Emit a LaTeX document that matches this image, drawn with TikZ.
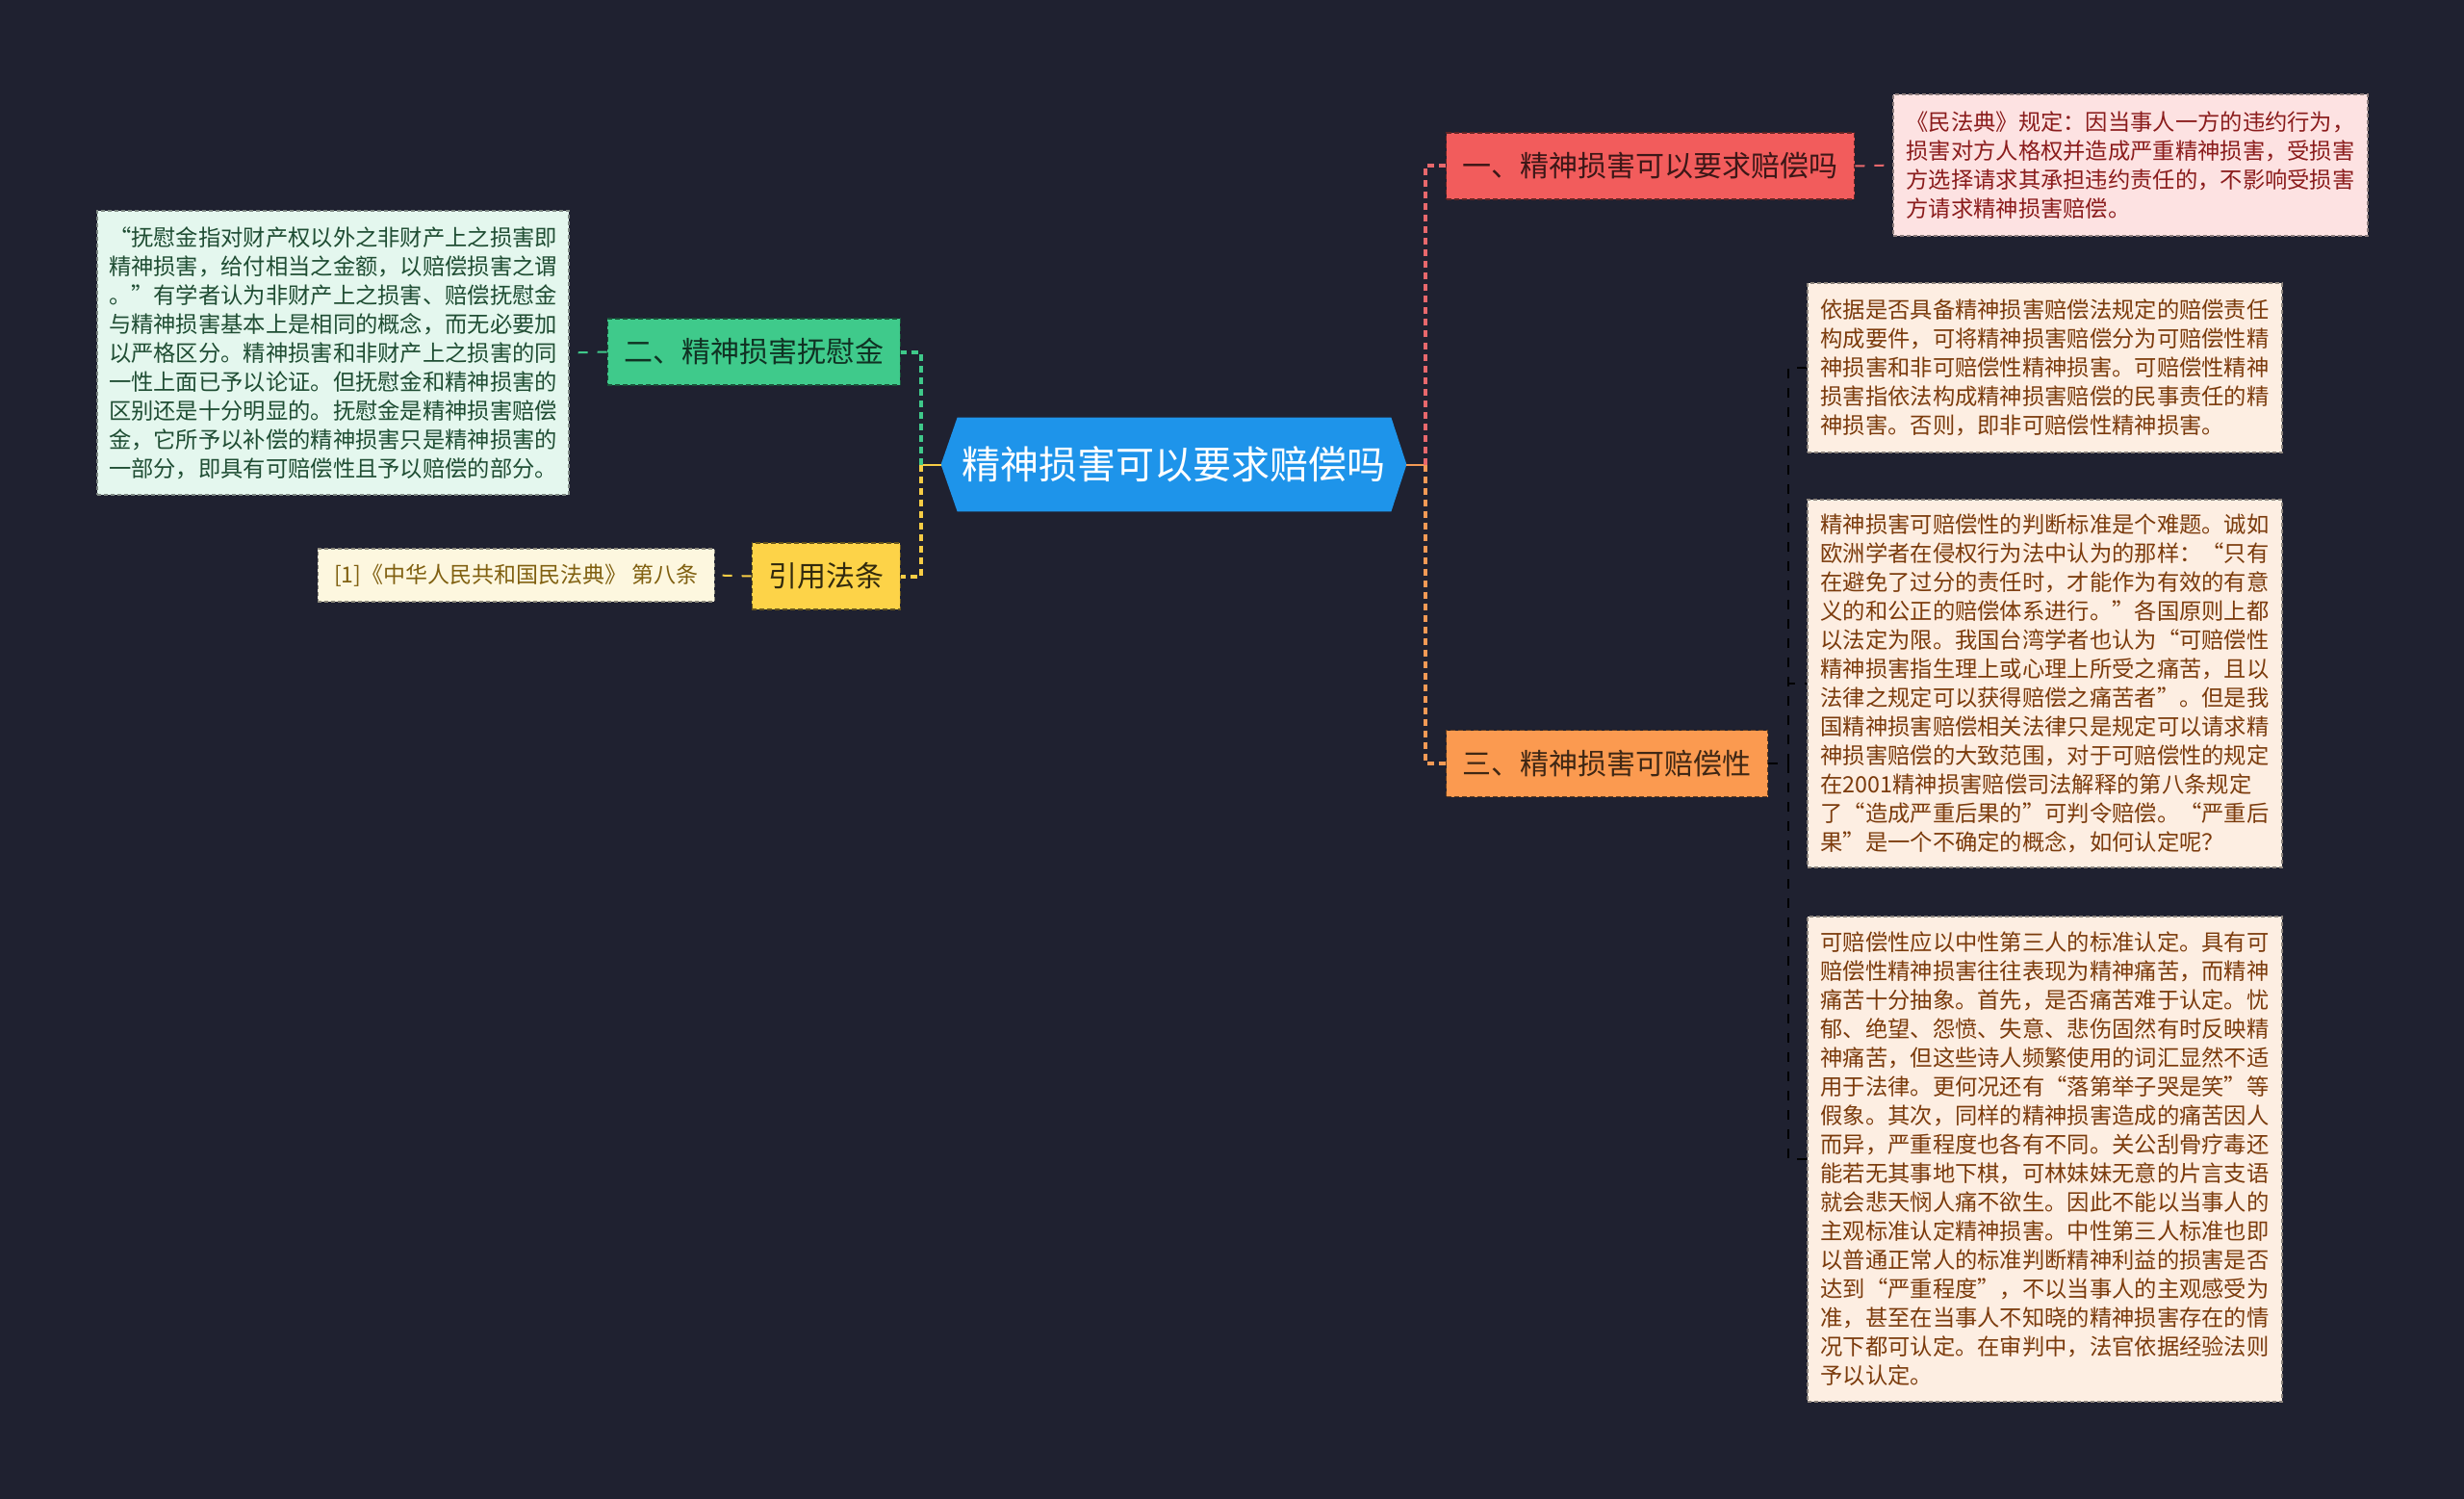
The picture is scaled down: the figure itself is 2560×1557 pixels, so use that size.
\documentclass[tikz,border=0pt]{standalone}
\usepackage{fontspec}
\setmainfont{Noto Sans CJK SC}
\usetikzlibrary{backgrounds}
\definecolor{bgc}{HTML}{1F2130}
\definecolor{rootc}{HTML}{1E94EA}
\definecolor{redc}{HTML}{F25C5C}
\definecolor{orangec}{HTML}{FB9A50}
\definecolor{greenc}{HTML}{3FCA8B}
\definecolor{yellowc}{HTML}{FDD348}
\definecolor{redline}{HTML}{E8686C}
\definecolor{orangeline}{HTML}{F39A55}
\definecolor{greenline}{HTML}{3FC98A}
\definecolor{yellowline}{HTML}{F7CD45}
\definecolor{leafline}{HTML}{D98A4E}
\definecolor{mintfill}{HTML}{E4F7EE}
\definecolor{minttext}{HTML}{1F4D33}
\definecolor{pinkfill}{HTML}{FDE2E2}
\definecolor{pinktext}{HTML}{8A1C1C}
\definecolor{peachfill}{HTML}{FDEEE2}
\definecolor{peachtext}{HTML}{7B3B0C}
\definecolor{creamfill}{HTML}{FDF7DF}
\definecolor{creamtext}{HTML}{806010}
\begin{document}
\begin{tikzpicture}[x=0.5pt,y=-0.5pt,
  textbox/.style={inner sep=0pt, align=left, line width=0.6pt,
    dash pattern=on 2pt off 1.5pt,
    font=\fontsize{11.65pt}{15pt}\selectfont},
  branchbox/.style={inner xsep=8.5pt, inner ysep=0pt, minimum height=34.5pt,
    line width=0.7pt, dash pattern=on 2.5pt off 1.5pt,
    font=\fontsize{15pt}{18pt}\selectfont},
  busline/.style={line width=2pt, dash pattern=on 3.5pt off 2.5pt},
  stubline/.style={line width=1pt},
  leafline/.style={line width=1pt, dash pattern=on 5pt off 5pt}]
\useasboundingbox (0,0) rectangle (2560,1557);
\begin{pgfonlayer}{background}
\fill[bgc] (0,0) rectangle (2560,1557);
\end{pgfonlayer}

% root
\node[inner sep=0pt, minimum width=241.5pt, minimum height=48.5pt, text=white,
  font=\fontsize{20pt}{24pt}\selectfont] (root) at (1219.5,482.5) {精神损害可以要求赔偿吗};
\begin{pgfonlayer}{background}
\fill[rootc] (root.west) -- ([xshift=8.5pt]root.north west) -- ([xshift=-8pt]root.north east)
  -- (root.east) -- ([xshift=-8pt]root.south east) -- ([xshift=8.5pt]root.south west) -- cycle;
\end{pgfonlayer}

% branches
\node[branchbox, anchor=west, fill=redc, draw=redc!40!black, text=redc!25!black] (b1) at (1502,172.5) {一、精神损害可以要求赔偿吗};
\node[branchbox, anchor=west, fill=orangec, draw=orangec!40!black, text=orangec!25!black] (b3) at (1502,793) {三、精神损害可赔偿性};
\node[branchbox, anchor=east, fill=greenc, draw=greenc!40!black, text=greenc!25!black] (b2) at (936,365.5) {二、精神损害抚慰金};
\node[branchbox, anchor=east, fill=yellowc, draw=yellowc!40!black, text=yellowc!20!black] (b4) at (936,598.5) {引用法条};

% leaves
\node[textbox, fill=pinkfill, draw=pinkfill!55!black, text=pinktext,
  minimum width=246.5pt, minimum height=73.5pt] (l1) at (2213.5,171.5) {%
《民法典》规定：因当事人一方的违约行为，\\
损害对方人格权并造成严重精神损害，受损害\\
方选择请求其承担违约责任的，不影响受损害\\
方请求精神损害赔偿。};

\node[textbox, fill=mintfill, draw=mintfill!55!black, text=minttext,
  minimum width=245pt, minimum height=147.5pt] (lbox) at (346,366.5) {%
“抚慰金指对财产权以外之非财产上之损害即\\
精神损害，给付相当之金额，以赔偿损害之谓\\
。”有学者认为非财产上之损害、赔偿抚慰金\\
与精神损害基本上是相同的概念，而无必要加\\
以严格区分。精神损害和非财产上之损害的同\\
一性上面已予以论证。但抚慰金和精神损害的\\
区别还是十分明显的。抚慰金是精神损害赔偿\\
金，它所予以补偿的精神损害只是精神损害的\\
一部分，即具有可赔偿性且予以赔偿的部分。};

\node[textbox, fill=creamfill, draw=creamfill!55!black, text=creamtext,
  minimum width=206pt, minimum height=27.5pt, anchor=east,
  font=\fontsize{11.5pt}{14pt}\selectfont] (cite) at (743,597.5) {[1]《中华人民共和国民法典》 第八条};

\node[textbox, fill=peachfill, draw=peachfill!55!black, text=peachtext,
  minimum width=246.5pt, minimum height=88pt] (r1) at (2124.5,382) {%
依据是否具备精神损害赔偿法规定的赔偿责任\\
构成要件，可将精神损害赔偿分为可赔偿性精\\
神损害和非可赔偿性精神损害。可赔偿性精神\\
损害指依法构成精神损害赔偿的民事责任的精\\
神损害。否则，即非可赔偿性精神损害。};

\node[textbox, fill=peachfill, draw=peachfill!55!black, text=peachtext,
  minimum width=246.5pt, minimum height=191pt] (r2) at (2124.5,710) {%
精神损害可赔偿性的判断标准是个难题。诚如\\
欧洲学者在侵权行为法中认为的那样：“只有\\
在避免了过分的责任时，才能作为有效的有意\\
义的和公正的赔偿体系进行。”各国原则上都\\
以法定为限。我国台湾学者也认为“可赔偿性\\
精神损害指生理上或心理上所受之痛苦，且以\\
法律之规定可以获得赔偿之痛苦者”。但是我\\
国精神损害赔偿相关法律只是规定可以请求精\\
神损害赔偿的大致范围，对于可赔偿性的规定\\
在2001精神损害赔偿司法解释的第八条规定\\
了“造成严重后果的”可判令赔偿。“严重后\\
果”是一个不确定的概念，如何认定呢？};

\node[textbox, fill=peachfill, draw=peachfill!55!black, text=peachtext,
  minimum width=246.5pt, minimum height=252pt] (r3) at (2124.5,1204) {%
可赔偿性应以中性第三人的标准认定。具有可\\
赔偿性精神损害往往表现为精神痛苦，而精神\\
痛苦十分抽象。首先，是否痛苦难于认定。忧\\
郁、绝望、怨愤、失意、悲伤固然有时反映精\\
神痛苦，但这些诗人频繁使用的词汇显然不适\\
用于法律。更何况还有“落第举子哭是笑”等\\
假象。其次，同样的精神损害造成的痛苦因人\\
而异，严重程度也各有不同。关公刮骨疗毒还\\
能若无其事地下棋，可林妹妹无意的片言支语\\
就会悲天悯人痛不欲生。因此不能以当事人的\\
主观标准认定精神损害。中性第三人标准也即\\
以普通正常人的标准判断精神利益的损害是否\\
达到“严重程度”，不以当事人的主观感受为\\
准，甚至在当事人不知晓的精神损害存在的情\\
况下都可认定。在审判中，法官依据经验法则\\
予以认定。};

% connectors
\coordinate (rb) at (1481,482.5);
\coordinate (lb) at (957,482.5);
\coordinate (ob) at (1858,793);
\draw[stubline, orangeline] (root.east) -- (rb);
\draw[busline, redline] (rb) |- (b1.west);
\draw[busline, orangeline] (rb) |- (b3.west);
\draw[stubline, yellowline] (root.west) -- (lb);
\draw[busline, greenline] (lb) |- (b2.east);
\draw[busline, yellowline] (lb) |- (b4.east);
\draw[leafline, redline] (b1.east) -- (l1.west);
\draw[leafline, greenline] (b2.west) -- (lbox.east);
\draw[leafline, yellowline] (b4.west) -- (cite.east);
\draw[leafline, leafline] (b3.east) -- (ob);
\draw[leafline, leafline] (ob) |- (r1.west);
\draw[leafline, leafline] (ob) |- (r2.west);
\draw[leafline, leafline] (ob) |- (r3.west);
\end{tikzpicture}
\end{document}
